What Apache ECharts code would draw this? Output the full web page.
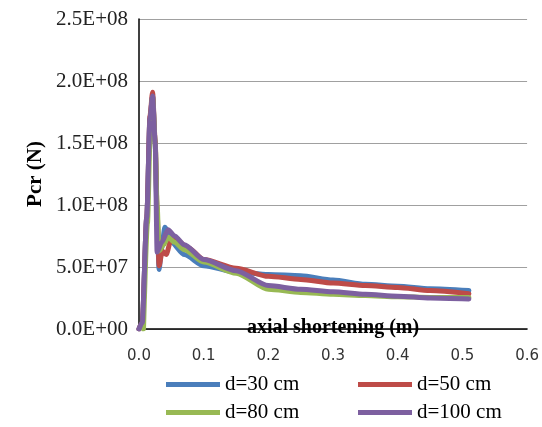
<!DOCTYPE html>
<html>
<head>
<meta charset="utf-8">
<script src="https://cdn.jsdelivr.net/npm/echarts@6/dist/echarts.min.js"></script>
<style>html,body{margin:0;padding:0;background:#fff;}#c{width:542px;height:427px;}</style>
</head>
<body>
<div id="c"></div>
<script>
// Data (x in m, y in N)
var seriesNames = ['d=30 cm', 'd=50 cm', 'd=80 cm', 'd=100 cm'];
var colors = ['#4a7ebb', '#be4b48', '#98b954', '#7d60a0'];

var x30 = [0, 0.005, 0.012, 0.017, 0.021, 0.025, 0.028, 0.031, 0.035, 0.04, 0.05, 0.07, 0.1, 0.15, 0.2, 0.25, 0.3, 0.35, 0.4, 0.45, 0.51];
var y30 = [0, 5e6, 9e7, 1.7e8, 1.88e8, 1.5e8, 9e7, 4.8e7, 6.5e7, 8.2e7, 7.0e7, 6.0e7, 5.1e7, 4.6e7, 4.4e7, 4.3e7, 3.95e7, 3.6e7, 3.45e7, 3.25e7, 3.1e7];

var x50 = [0, 0.005, 0.012, 0.017, 0.021, 0.025, 0.028, 0.031, 0.036, 0.042, 0.05, 0.06, 0.075, 0.1, 0.15, 0.2, 0.25, 0.3, 0.35, 0.4, 0.45, 0.51];
var y50 = [0, 5e6, 9e7, 1.72e8, 1.91e8, 1.52e8, 9.5e7, 5.1e7, 6.3e7, 6.0e7, 7.3e7, 7.1e7, 6.6e7, 5.6e7, 4.9e7, 4.25e7, 4.0e7, 3.7e7, 3.5e7, 3.35e7, 3.1e7, 2.85e7];

var x80 = [0.007, 0.013, 0.018, 0.021, 0.025, 0.028, 0.031, 0.038, 0.045, 0.055, 0.07, 0.1, 0.15, 0.2, 0.25, 0.3, 0.35, 0.4, 0.45, 0.51];
var y80 = [0, 8.5e7, 1.7e8, 1.87e8, 1.5e8, 1.0e8, 6.3e7, 6.8e7, 7.4e7, 7.0e7, 6.4e7, 5.4e7, 4.5e7, 3.2e7, 2.95e7, 2.8e7, 2.7e7, 2.6e7, 2.55e7, 2.55e7];

var x100 = [0, 0.005, 0.012, 0.017, 0.021, 0.025, 0.028, 0.035, 0.045, 0.055, 0.07, 0.1, 0.15, 0.2, 0.25, 0.3, 0.35, 0.4, 0.45, 0.51];
var y100 = [0, 5e6, 9e7, 1.7e8, 1.88e8, 1.5e8, 6.2e7, 7.0e7, 8.0e7, 7.5e7, 6.8e7, 5.6e7, 4.7e7, 3.5e7, 3.2e7, 3.0e7, 2.8e7, 2.65e7, 2.5e7, 2.42e7];

var xTicks = ['0.0', '0.1', '0.2', '0.3', '0.4', '0.5', '0.6'];
var yTicks = ['0.0E+00', '5.0E+07', '1.0E+08', '1.5E+08', '2.0E+08', '2.5E+08'];

function pairs(xs, ys) { return xs.map(function (x, i) { return [x, ys[i]]; }); }
var allX = [x30, x50, x80, x100];
var allY = [y30, y50, y80, y100];

var chart = echarts.init(document.getElementById('c'), null, {renderer: 'canvas'});

var series = seriesNames.map(function (n, i) {
  return {
    name: n, type: 'line', data: pairs(allX[i], allY[i]),
    showSymbol: false, symbol: 'none', smooth: 0.25, smoothMonotone: 'x',
    lineStyle: {color: colors[i], width: 5, cap: 'round', join: 'round'},
    itemStyle: {color: colors[i]}
  };
});

var legendPos = [[166, 374], [358, 374], [166, 402], [358, 402]];
var legends = seriesNames.map(function (n, i) {
  return {
    data: [{name: n, icon: 'rect'}], left: legendPos[i][0], top: legendPos[i][1],
    itemWidth: 54, itemHeight: 5, itemGap: 10, padding: 0,
    textStyle: {fontFamily: 'Liberation Serif', fontSize: 21, color: '#000'}
  };
});

chart.setOption({
  animation: false,
  backgroundColor: '#fff',
  grid: {left: 139, right: 14, top: 19, bottom: 98},
  legend: legends,
  xAxis: {
    type: 'value', min: 0, max: 0.6, interval: 0.1,
    name: 'axial shortening (m)', nameLocation: 'middle', nameGap: -11, nameMoveOverlap: false,
    nameTextStyle: {fontFamily: 'Liberation Serif', fontWeight: 'bold', fontSize: 20, color: '#000'},
    axisLine: {lineStyle: {color: '#000', width: 1.5}},
    axisTick: {show: false},
    splitLine: {show: false},
    axisLabel: {
      margin: 20, fontFamily: 'DejaVu Sans', fontSize: 15, color: '#333',
      formatter: function (v) { return xTicks[Math.round(v / 0.1)]; }
    }
  },
  yAxis: {
    type: 'value', min: 0, max: 2.5e8, interval: 5e7,
    name: 'Pcr (N)', nameLocation: 'middle', nameGap: 93, nameRotate: 90, nameMoveOverlap: false,
    nameTextStyle: {fontFamily: 'Liberation Serif', fontWeight: 'bold', fontSize: 21, color: '#000'},
    axisLine: {show: true, lineStyle: {color: '#000', width: 1.5}},
    axisTick: {show: false},
    splitLine: {lineStyle: {color: '#a0a0a0', width: 1.2}},
    axisLabel: {
      margin: 11, fontFamily: 'Liberation Serif', fontSize: 21, color: '#222',
      formatter: function (v) { return yTicks[Math.round(v / 5e7)]; }
    }
  },
  series: series
});
</script>
</body>
</html>
